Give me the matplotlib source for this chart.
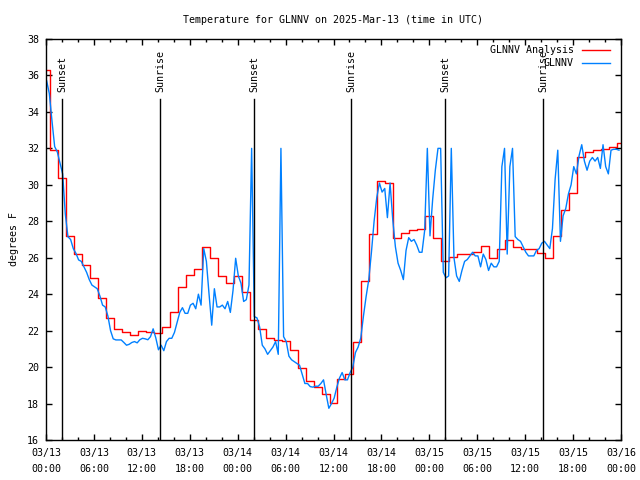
import numpy as np
import pandas as pd
import matplotlib
matplotlib.use("Agg")
import matplotlib.pyplot as plt
import matplotlib.dates as mdates

plt.rcParams['font.family'] = ['DejaVu Sans Mono']

start = pd.Timestamp("2025-03-13 00:00")

# analysis: hourly values
analysis_temp = [36.3, 31.9, 30.4, 27.2, 26.2, 25.6, 24.9, 23.8, 22.7, 22.1, 21.95, 21.76,
                 22.0, 21.9, 21.85, 22.2, 23.0, 24.4, 25.05, 25.4, 26.57, 26.0, 25.0, 24.63,
                 25.0, 24.1, 22.6, 22.07, 21.6, 21.5, 21.45, 20.94, 19.94, 19.26, 18.93, 18.53,
                 18.05, 19.33, 19.6, 21.4, 24.72, 27.29, 30.2, 30.08, 27.07, 27.34, 27.52, 27.6,
                 28.3, 27.1, 25.84, 26.06, 26.19, 26.19, 26.3, 26.64, 26.0, 26.5, 26.97, 26.6,
                 26.5, 26.5, 26.24, 26.0, 27.2, 28.6, 29.57, 31.55, 31.82, 31.9, 31.94, 32.1,
                 32.28]
analysis_time = pd.date_range(start, periods=len(analysis_temp), freq="1h")

# station obs: every 20 minutes
obs_temp = [35.7, 35.0, 33.5, 32.1, 31.8, 31.2, 30.6, 28.4, 27.15, 27.0, 26.5, 26.24,
            25.88, 25.8, 25.5, 25.2, 24.8, 24.5, 24.4, 24.3, 23.9, 23.4, 23.3, 22.8,
            22.0, 21.55, 21.49, 21.49, 21.49, 21.35, 21.2, 21.25, 21.35, 21.4, 21.33, 21.5,
            21.58, 21.55, 21.5, 21.67, 22.1, 21.6, 20.95, 21.2, 20.9, 21.4, 21.58, 21.58,
            21.9, 22.45, 23.0, 23.26, 22.95, 22.95, 23.4, 23.5, 23.2, 24.0, 23.4, 26.5,
            25.8, 24.0, 22.3, 24.3, 23.3, 23.3, 23.4, 23.2, 23.6, 23.0, 24.2, 25.97,
            25.0, 24.6, 23.6, 23.7, 24.5, 32.0, 22.77, 22.7, 22.2, 21.2, 21.0, 20.7,
            20.9, 21.1, 21.4, 20.7, 32.0, 21.67, 21.4, 20.6, 20.4, 20.3, 20.2, 20.1,
            19.6, 19.1, 19.1, 18.93, 18.9, 18.95, 18.95, 19.1, 19.3, 18.5, 17.74, 18.0,
            18.3, 18.9, 19.4, 19.7, 19.3, 19.3, 19.7, 20.0, 20.8, 21.1, 21.6, 22.8,
            23.87, 24.8, 26.3, 28.0, 29.3, 30.1, 29.6, 29.8, 28.2, 30.1, 28.1, 26.6,
            25.7, 25.3, 24.8, 26.4, 27.1, 26.9, 27.0, 26.7, 26.3, 26.3, 27.5, 32.0,
            27.2, 29.2, 30.8, 32.0, 32.0, 25.2, 24.9, 25.0, 32.0, 26.0, 25.0, 24.7,
            25.3, 25.8, 25.9, 26.1, 26.3, 26.1, 26.1, 25.5, 26.2, 25.9, 25.3, 25.7,
            25.5, 25.5, 25.8, 31.0, 32.0, 26.2, 31.0, 32.0, 27.16, 27.0, 26.9, 26.6,
            26.3, 26.1, 26.1, 26.1, 26.4, 26.5, 26.8, 26.9, 26.7, 26.5, 27.6, 30.3,
            31.9, 26.9, 28.3, 28.7, 29.5, 30.0, 31.0, 30.6, 31.6, 32.2, 31.3, 30.8,
            31.3, 31.5, 31.3, 31.5, 30.9, 32.2, 31.0, 30.6, 31.9, 31.95, 31.95, 31.9]
obs_time = pd.date_range(start + pd.Timedelta(minutes=5), periods=len(obs_temp), freq="20min")

sun_events = ["Sunset", "Sunrise", "Sunset", "Sunrise", "Sunset", "Sunrise"]
sun_hours = [2.04, 14.31, 26.08, 38.23, 50.02, 62.27]

fig = plt.figure(figsize=(6.4, 4.8), dpi=100)
ax = fig.add_axes([46 / 640, 40 / 480, 575 / 640, 401 / 480])

ax.plot(analysis_time, analysis_temp, color="#ff0000", lw=1.0, drawstyle="steps-mid")
ax.plot(obs_time, obs_temp, color="#0080ff", lw=1.0)

for name, hr in zip(sun_events, sun_hours):
    t = start + pd.Timedelta(hours=hr)
    ax.plot([t, t], [16, 34.7], color="black", lw=1.0)
    ax.text(t, 35.1, name, rotation=90, ha="center", va="bottom", fontsize=7.2)

ax.set_xlim(start, start + pd.Timedelta(hours=72))
ax.set_ylim(16, 38)
ax.set_yticks(np.arange(16, 39, 2))
ax.xaxis.set_major_locator(mdates.HourLocator(byhour=[0, 6, 12, 18]))
ax.xaxis.set_minor_locator(mdates.HourLocator(byhour=range(0, 24, 2)))
ax.xaxis.set_major_formatter(mdates.DateFormatter("%m/%d\n%H:%M"))
ax.tick_params(which="both", direction="in", top=True, right=True, labelsize=7.2, width=1)
ax.tick_params(which="major", length=4)
ax.tick_params(which="minor", length=2.2)
ax.tick_params(axis="y", pad=5)
ax.tick_params(axis="x", pad=6)
plt.setp(ax.get_xticklabels(), linespacing=1.75)
for s in ax.spines.values():
    s.set_linewidth(1)

ax.set_ylabel("degrees F", fontsize=7.2, labelpad=6)
fig.text(333 / 640, 1 - 20 / 480, "Temperature for GLNNV on 2025-Mar-13 (time in UTC)",
         ha="center", va="center", fontsize=7.2)

# legend, gnuplot style (text right aligned, sample on the right)
labels = ["GLNNV Analysis", "GLNNV"]
colors = ["#ff0000", "#0080ff"]
rows = [0.973, 0.941]
for lab, col, yy in zip(labels, colors, rows):
    ax.text(0.918, yy, lab, transform=ax.transAxes, ha="right", va="center", fontsize=7.2)
    ax.plot([0.932, 0.981], [yy, yy], transform=ax.transAxes, color=col, lw=1.0)

fig.savefig("out.png", dpi=100)
